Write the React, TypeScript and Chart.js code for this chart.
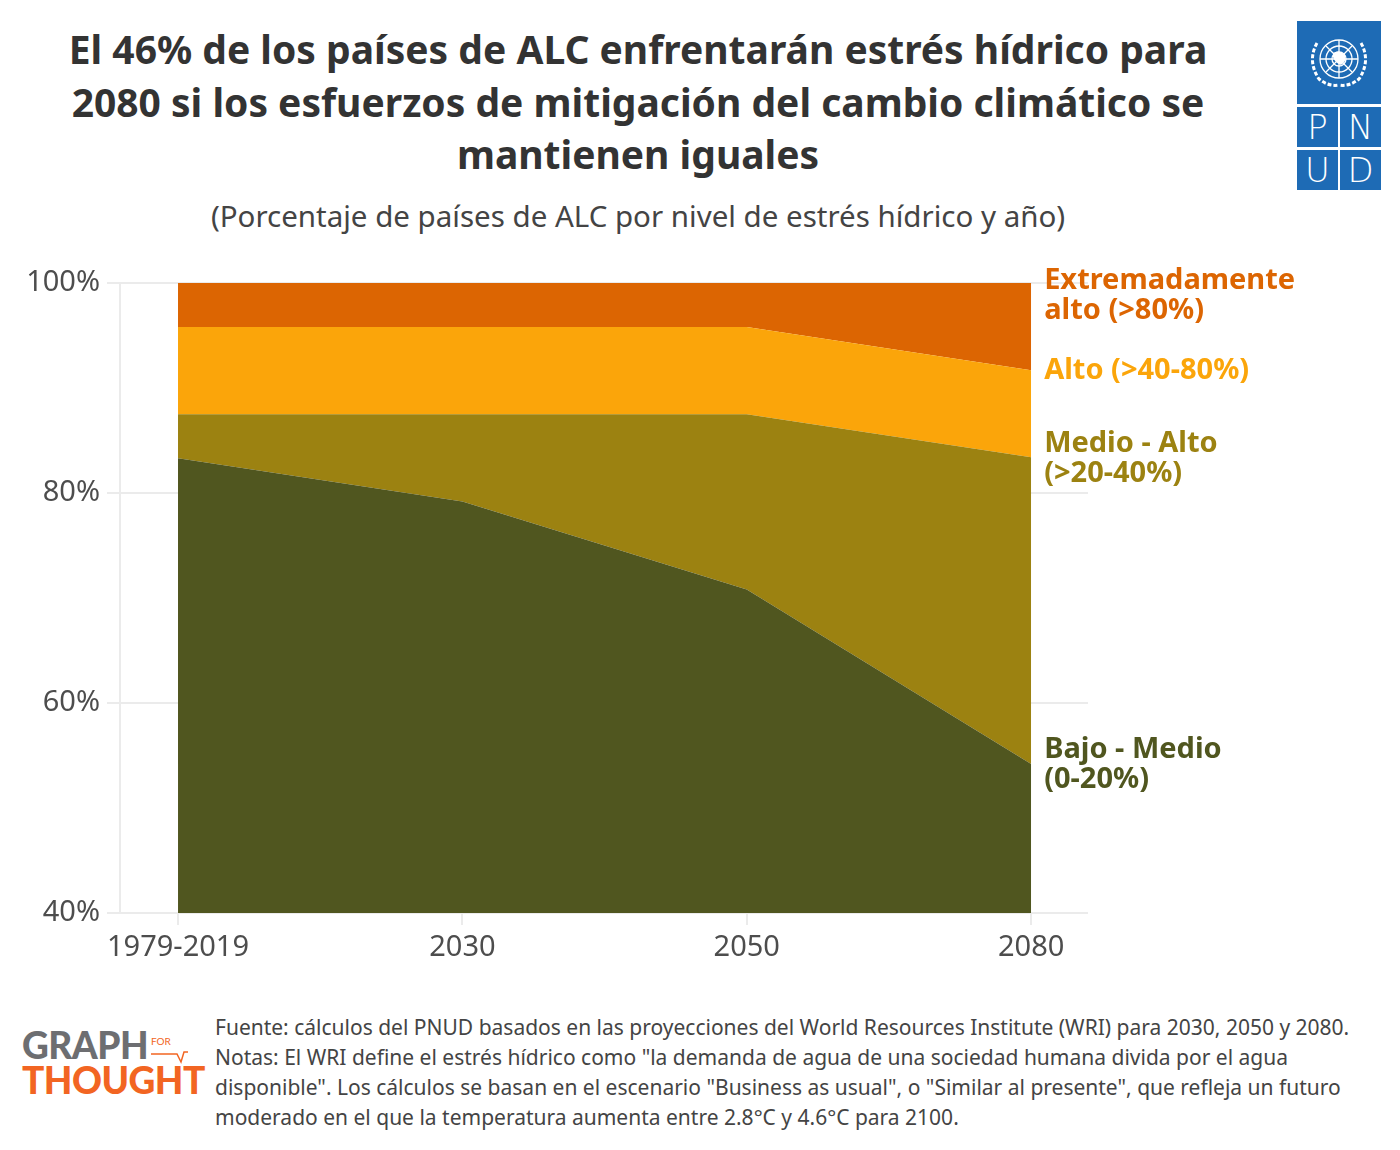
import React, { useEffect, useRef } from "react";
import { Chart, registerables } from "chart.js";

Chart.register(...registerables);

const categories = ["1979-2019", "2030", "2050", "2080"];
const bajoMedio = [83.3, 79.2, 70.8, 54.2];
const medioAlto = [4.2, 8.3, 16.7, 29.2];
const alto = [8.3, 8.3, 8.3, 8.3];
const extremo = [4.2, 4.2, 4.2, 8.3];

const seriesNames = ["Bajo - Medio", "Medio - Alto", "Alto", "Extremadamente alto"];
const seriesLabels = [
  ["Bajo - Medio", "(0-20%)"],
  ["Medio - Alto", "(>20-40%)"],
  ["Alto (>40-80%)"],
  ["Extremadamente", "alto (>80%)"],
];
const seriesColors = ["#50561f", "#9c8211", "#fba50a", "#dc6502"];
const yTicks = [40, 60, 80, 100];

const FONT = "'Noto Sans', Lato, sans-serif";
const LOGO_FONT = "Lato, sans-serif";

const endLabels = {
  id: "endLabels",
  afterDatasetsDraw(chart: any) {
    const { ctx, scales, chartArea } = chart;
    const last = categories.length - 1;
    const x = scales.x.getPixelForValue(last) + 13;
    let cum = 0;
    const lineH = 30;
    ctx.save();
    ctx.font = `bold 29px ${FONT}`;
    ctx.textAlign = "left";
    ctx.textBaseline = "middle";
    chart.data.datasets.forEach((ds: any, i: number) => {
      cum += ds.data[last].y;
      const y = scales.y.getPixelForValue(cum);
      const lines = seriesLabels[i];
      let top = y - (lines.length * lineH) / 2;
      const minTop = chartArea.top - 18;
      if (top < minTop) top = minTop;
      ctx.fillStyle = seriesColors[i];
      lines.forEach((t, k) => {
        ctx.fillText(t, x, top + lineH / 2 + k * lineH + 1);
      });
    });
    ctx.restore();
  },
};

function ChartBox() {
  const ref = useRef<HTMLCanvasElement | null>(null);
  useEffect(() => {
    if (!ref.current) return;
    const all = [bajoMedio, medioAlto, alto, extremo];
    const chart = new Chart(ref.current, {
      type: "line",
      data: {
        datasets: all.map((arr, i) => ({
          label: seriesNames[i],
          data: arr.map((v, j) => ({ x: j, y: v })),
          backgroundColor: seriesColors[i],
          borderColor: seriesColors[i],
          borderWidth: 0,
          pointRadius: 0,
          tension: 0,
          fill: i === 0 ? "start" : "-1",
        })),
      },
      options: {
        responsive: false,
        animation: false,
        devicePixelRatio: 1,
        layout: { padding: { top: 33, right: 304, left: 0, bottom: 0 } },
        plugins: { legend: { display: false }, tooltip: { enabled: false } },
        scales: {
          x: {
            type: "linear",
            min: -0.204,
            max: 3.2,
            afterBuildTicks: (scale: any) => {
              scale.ticks = categories.map((_, i) => ({ value: i }));
            },
            afterFit: (scale: any) => {
              scale.height = 60;
            },
            ticks: {
              callback: (v: any) => categories[v] ?? "",
              color: "#4d4d4d",
              font: { family: FONT, size: 29 },
              padding: 5,
              maxRotation: 0,
              autoSkip: false,
            },
            grid: {
              drawOnChartArea: false,
              drawTicks: true,
              tickLength: 12,
              color: "#ebebeb",
              lineWidth: 2,
            },
            border: { display: false },
          },
          y: {
            stacked: true,
            min: 40,
            max: 100,
            afterBuildTicks: (scale: any) => {
              scale.ticks = yTicks.map((v) => ({ value: v }));
            },
            afterFit: (scale: any) => {
              scale.width = 112;
            },
            ticks: {
              callback: (v: any) => `${v}%`,
              color: "#4d4d4d",
              font: { family: FONT, size: 29 },
              padding: 7,
            },
            grid: {
              color: "#ebebeb",
              lineWidth: 2,
              tickLength: 13,
              drawTicks: true,
            },
            border: { display: true, color: "#ebebeb", width: 2 },
          },
        },
      },
      plugins: [endLabels],
    } as any);
    return () => chart.destroy();
  }, []);
  return (
    <canvas
      ref={ref}
      width={1384}
      height={723}
      style={{ position: "absolute", left: 0, top: 242, width: 1384, height: 723 }}
    />
  );
}

function UndpLogo() {
  const blue = "#1e6bb5";
  const cell = (l: number, t: number, w: number, h: number, txt?: string) => (
    <div
      style={{
        position: "absolute",
        left: l,
        top: t,
        width: w,
        height: h,
        background: blue,
        color: "#fff",
        fontFamily: "'DejaVu Sans', sans-serif",
        fontWeight: 300,
        fontSize: 34,
        lineHeight: `${h}px`,
        textAlign: "center",
      }}
    >
      {txt}
    </div>
  );
  return (
    <div style={{ position: "absolute", left: 1289, top: 13, width: 84, height: 170 }}>
      {cell(0, 0, 84, 83)}
      <svg style={{ position: "absolute", left: 0, top: 0 }} width={84} height={83} viewBox="0 0 84 83">
        <g fill="none" stroke="#fff" strokeWidth={1.3}>
          <circle cx={42} cy={38} r={19} />
          <circle cx={42} cy={38} r={13} />
          <circle cx={42} cy={38} r={7} />
          <line x1={42} y1={19} x2={42} y2={57} />
          <line x1={23} y1={38} x2={61} y2={38} />
          <line x1={29} y1={25} x2={55} y2={51} />
          <line x1={55} y1={25} x2={29} y2={51} />
          <path d="M20 22 Q10 40 22 58 Q32 66 42 64" strokeWidth={3} strokeDasharray="4 2" />
          <path d="M64 22 Q74 40 62 58 Q52 66 42 64" strokeWidth={3} strokeDasharray="4 2" />
        </g>
        <path d="M36 32 Q42 28 48 34 Q50 40 44 44 Q38 42 36 36 Z" fill="#fff" />
      </svg>
      {cell(0, 86, 41, 40, "P")}
      {cell(43, 86, 41, 40, "N")}
      {cell(0, 129, 41, 40, "U")}
      {cell(43, 129, 41, 40, "D")}
    </div>
  );
}

function GftLogo() {
  return (
    <div style={{ position: "absolute", left: 14, top: 1018, width: 200, height: 90 }}>
      <div
        style={{
          position: "absolute",
          left: 0,
          top: 0,
          fontFamily: LOGO_FONT,
          fontWeight: 900,
          fontSize: 37,
          lineHeight: 1,
          color: "#6d6e71",
          letterSpacing: -0.5,
        }}
      >
        GRAPH
      </div>
      <div
        style={{
          position: "absolute",
          left: 129,
          top: 10,
          fontFamily: LOGO_FONT,
          fontSize: 10,
          lineHeight: 1,
          color: "#f26522",
        }}
      >
        FOR
      </div>
      <svg style={{ position: "absolute", left: 128, top: 20 }} width={40} height={20}>
        <polyline points="1,8 27,8 31,16 34,6 38,6" fill="none" stroke="#f26522" strokeWidth={1.5} />
      </svg>
      <div
        style={{
          position: "absolute",
          left: 0,
          top: 35,
          fontFamily: LOGO_FONT,
          fontWeight: 900,
          fontSize: 37,
          lineHeight: 1,
          color: "#f26522",
          letterSpacing: -0.5,
        }}
      >
        THOUGHT
      </div>
    </div>
  );
}

export default function App() {
  return (
    <div style={{ position: "relative", width: 1384, height: 1134, background: "#fff" }}>
      <div
        style={{
          position: "absolute",
          left: 0,
          top: 15,
          width: 1260,
          textAlign: "center",
          fontFamily: FONT,
          fontWeight: 700,
          fontSize: 39,
          lineHeight: "52.5px",
          color: "#333333",
        }}
      >
        El 46% de los países de ALC enfrentarán estrés hídrico para
        <br />
        2080 si los esfuerzos de mitigación del cambio climático se
        <br />
        mantienen iguales
      </div>
      <div
        style={{
          position: "absolute",
          left: 0,
          top: 190,
          width: 1260,
          textAlign: "center",
          fontFamily: FONT,
          fontSize: 29.5,
          lineHeight: "36px",
          color: "#444444",
        }}
      >
        (Porcentaje de países de ALC por nivel de estrés hídrico y año)
      </div>
      <UndpLogo />
      <ChartBox />
      <GftLogo />
      <div
        style={{
          position: "absolute",
          left: 207,
          top: 1004,
          width: 1180,
          fontFamily: FONT,
          fontSize: 21,
          lineHeight: "30px",
          color: "#444444",
          whiteSpace: "nowrap",
        }}
      >
        Fuente: cálculos del PNUD basados en las proyecciones del World Resources Institute (WRI) para 2030, 2050 y 2080.
        <br />
        Notas: El WRI define el estrés hídrico como "la demanda de agua de una sociedad humana divida por el agua
        <br />
        disponible". Los cálculos se basan en el escenario "Business as usual", o "Similar al presente", que refleja un futuro
        <br />
        moderado en el que la temperatura aumenta entre 2.8°C y 4.6°C para 2100.
      </div>
    </div>
  );
}
